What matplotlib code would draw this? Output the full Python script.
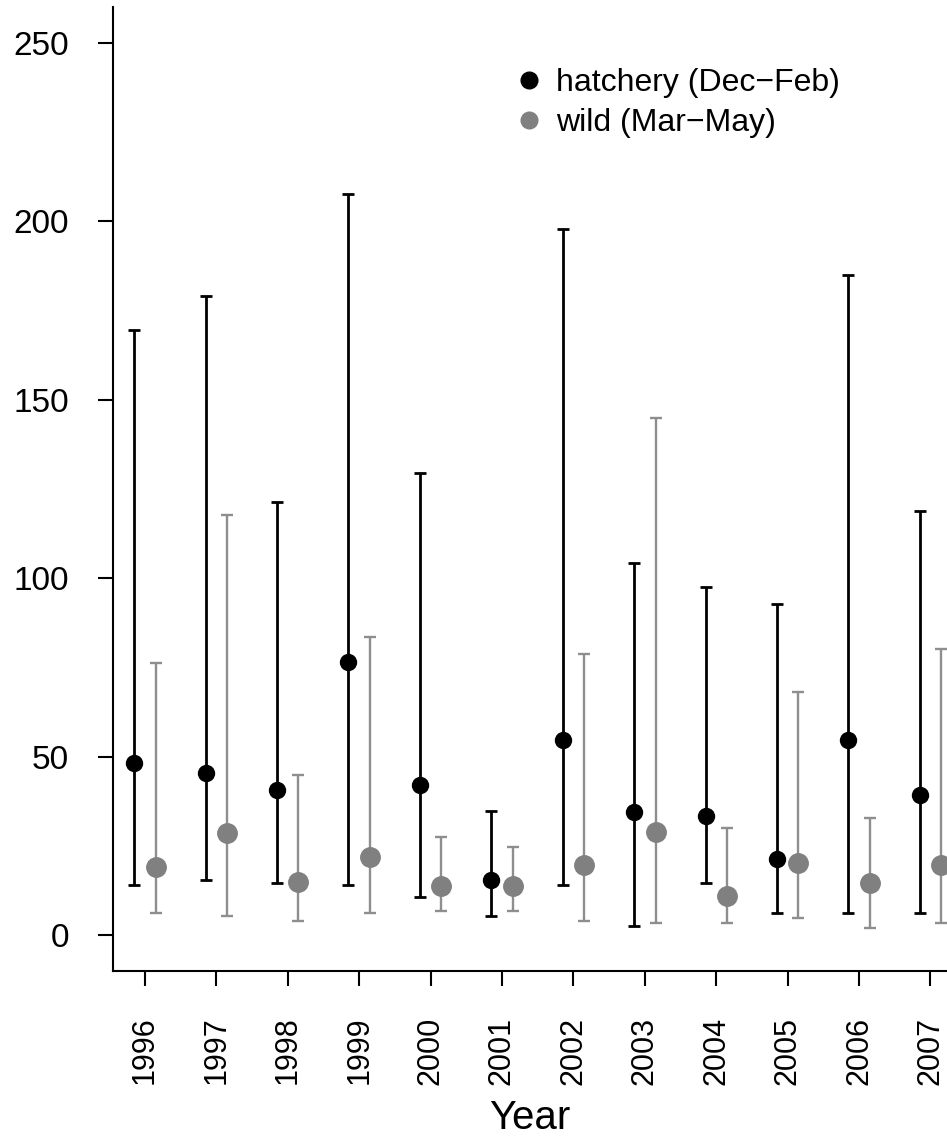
import matplotlib.pyplot as plt
from matplotlib.lines import Line2D
import numpy as np

plt.rcParams['font.family'] = ['Liberation Sans', 'DejaVu Sans']

# Data
years = [1996, 1997, 1998, 1999, 2000, 2001, 2002, 2003, 2004, 2005, 2006, 2007]

hatch_mid = [48.1, 45.3, 40.6, 76.6, 42.0, 15.4, 54.6, 34.5, 33.3, 21.2, 54.6, 39.2]
hatch_lo = [14.0, 15.4, 14.7, 14.0, 10.7, 5.3, 14.0, 2.6, 14.7, 6.1, 6.1, 6.1]
hatch_hi = [169.5, 179.0, 121.4, 207.7, 129.5, 34.7, 197.7, 104.3, 97.4, 92.7, 184.9, 118.9]

wild_mid = [19.1, 28.5, 14.9, 21.8, 13.7, 13.7, 19.6, 28.9, 10.9, 20.3, 14.5, 19.6]
wild_lo = [6.1, 5.4, 4.0, 6.1, 6.8, 6.7, 4.0, 3.3, 3.3, 4.7, 2.0, 3.3]
wild_hi = [76.1, 117.6, 44.7, 83.6, 27.4, 24.7, 78.7, 144.8, 30.1, 68.1, 32.7, 80.0]

yticks = [0, 50, 100, 150, 200, 250]


def main():
    fig = plt.figure(figsize=(9.47, 11.38), dpi=100)
    ax = fig.add_axes([0.1196, 0.147, 1.0 - 0.1196, 0.994 - 0.147])

    x = np.array(years, dtype=float)
    hm = np.array(hatch_mid)
    wm = np.array(wild_mid)
    h_err = [hm - np.array(hatch_lo), np.array(hatch_hi) - hm]
    w_err = [wm - np.array(wild_lo), np.array(wild_hi) - wm]

    # Wild (gray) series, offset right
    ax.errorbar(x + 0.15, wm, yerr=w_err, fmt='o', color='#808080',
                ecolor='#8e8e8e', elinewidth=1.7, capsize=4, capthick=1.7,
                markersize=14, zorder=2)
    # Hatchery (black) series, offset left
    ax.errorbar(x - 0.15, hm, yerr=h_err, fmt='o', color='black',
                ecolor='black', elinewidth=2.0, capsize=4, capthick=2.0,
                markersize=11.5, zorder=3)

    ax.set_xlim(1995.556, 2007.232)
    ax.set_ylim(-10, 260)

    ax.set_yticks(yticks)
    ax.set_yticklabels([str(v) for v in yticks])
    ax.set_xticks(years)
    ax.set_xticklabels([str(y) for y in years], rotation=90)

    ax.tick_params(axis='both', direction='out', length=11, width=1.5,
                   colors='black')
    ax.tick_params(axis='y', pad=21, labelsize=24)
    ax.tick_params(axis='x', pad=22, labelsize=22)

    for side in ['top', 'right']:
        ax.spines[side].set_visible(False)
    for side in ['left', 'bottom']:
        ax.spines[side].set_linewidth(1.5)

    ax.set_xlabel("Year", fontsize=29, labelpad=10)

    handles = [
        Line2D([], [], marker='o', ls='none', color='black', markersize=12),
        Line2D([], [], marker='o', ls='none', color='#808080', markersize=12),
    ]
    ax.legend(handles, ["hatchery (Dec\u2212Feb)", "wild (Mar\u2212May)"],
              loc='upper left', bbox_to_anchor=(0.545, 0.94),
              bbox_transform=fig.transFigure, frameon=False, fontsize=23,
              handlelength=0.8, handletextpad=0.45, labelspacing=0.3,
              borderpad=0, borderaxespad=0)

    plt.savefig("out.png", dpi=100)


if __name__ == "__main__":
    main()
